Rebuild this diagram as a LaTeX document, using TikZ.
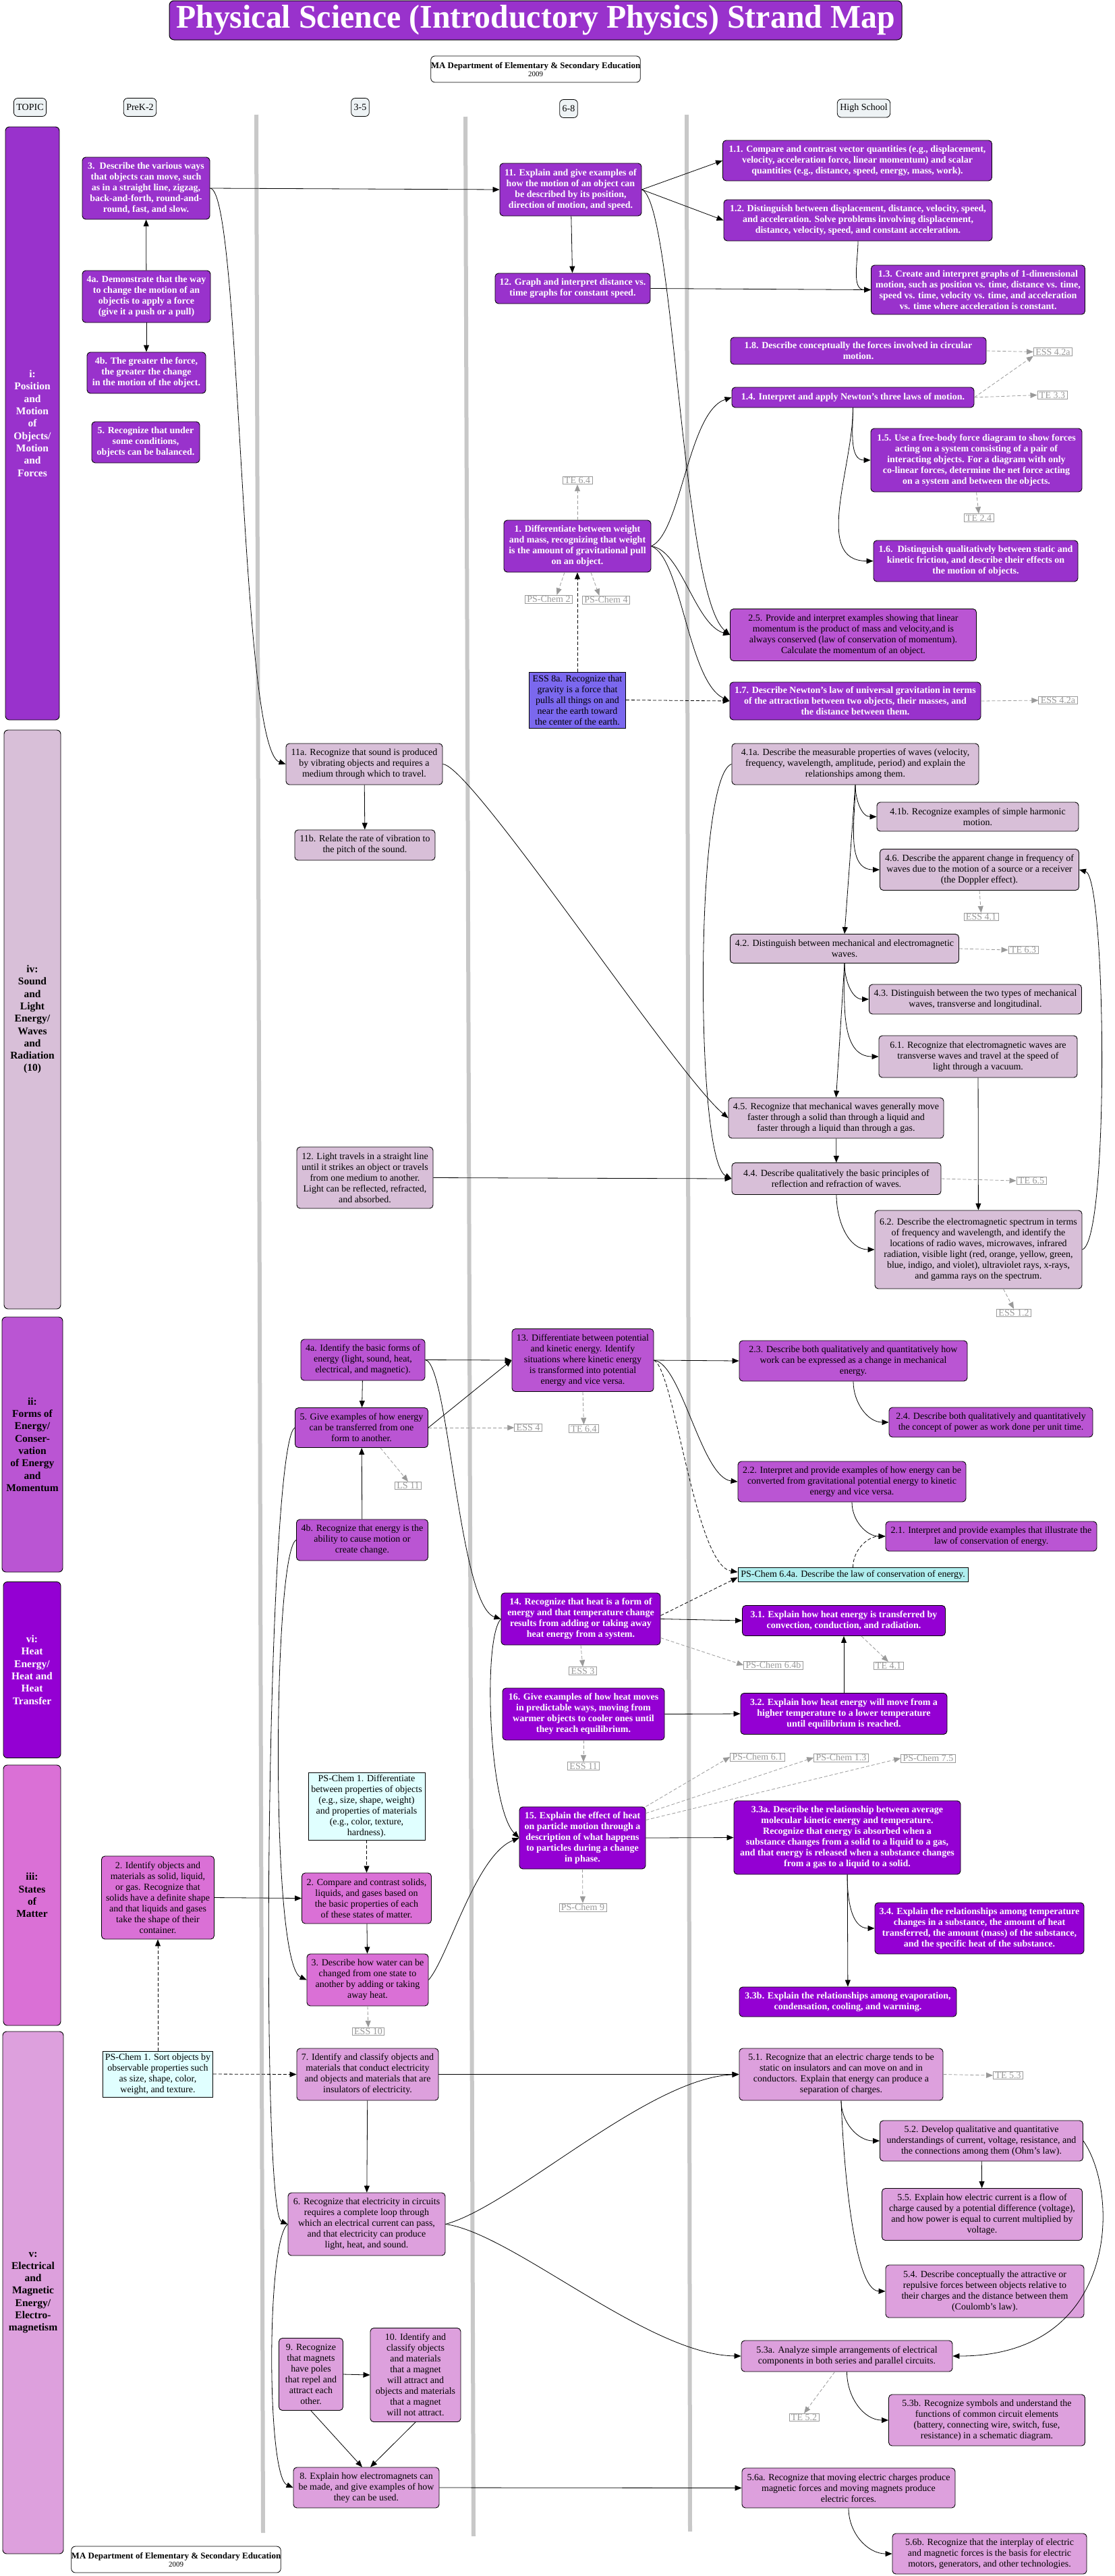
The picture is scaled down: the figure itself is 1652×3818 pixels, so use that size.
\documentclass[tikz,border=0pt]{standalone}
\usepackage{fontspec}
\setmainfont{Liberation Serif}
\usepackage{graphicx}
\usetikzlibrary{arrows.meta}

\definecolor{posc}{HTML}{9932CC}
\definecolor{wavec}{HTML}{D8BFD8}
\definecolor{enerc}{HTML}{BA55D3}
\definecolor{heatc}{HTML}{9400D3}
\definecolor{matc}{HTML}{DA70D6}
\definecolor{elecc}{HTML}{DDA0DD}
\definecolor{chemc}{HTML}{E0FFFF}
\definecolor{chemd}{HTML}{AFEEEE}
\definecolor{gravc}{HTML}{7B68EE}
\definecolor{headc}{HTML}{EEF3F5}
\definecolor{refc}{HTML}{999999}
\definecolor{colc}{HTML}{C8C8C8}

\tikzset{
  sz/.style 2 args={minimum width=#1pt, minimum height=#2pt},
  std/.style={draw=black, line width=0.9pt, rounded corners=5pt, align=center, inner sep=0pt, font=\fontsize{14}{16}\selectfont},
  posbox/.style={std, fill=posc, text=white, font=\fontsize{14}{16}\selectfont\bfseries},
  wavebox/.style={std, fill=wavec},
  enerbox/.style={std, fill=enerc},
  heatbox/.style={std, fill=heatc, text=white, font=\fontsize{14}{16}\selectfont\bfseries},
  mattbox/.style={std, fill=matc},
  elecbox/.style={std, fill=elecc},
  chembox/.style={std, rounded corners=0pt, fill=chemc},
  refbox/.style={draw=refc, text=refc, line width=0.8pt, inner xsep=3pt, inner ysep=1pt, font=\fontsize{14}{15}\selectfont},
  headbox/.style={draw=black, fill=headc, line width=0.8pt, rounded corners=6pt, font=\fontsize{14}{16}\selectfont, inner xsep=4pt, minimum height=27pt},
  topicbar/.style={draw=black, line width=0.9pt, rounded corners=6pt, align=center, font=\fontsize{15.5}{18.3}\selectfont\bfseries},
  deptbox/.style={draw=black, line width=0.8pt, rounded corners=6pt, fill=white, sz={302}{39}, align=center, inner sep=0pt},
  arr/.style={-{Triangle[length=10pt,width=8pt]}, line width=0.8pt},
  darr/.style={arr, dash pattern=on 5pt off 3pt},
  rarr/.style={darr, draw=refc},
  colline/.style={draw=colc, line width=6pt}
}

\begin{document}
\begin{tikzpicture}[x=1pt, y=-1pt]

\useasboundingbox[fill=white] (0,0) rectangle (1652,3818);

\draw[colline] (380,170) -- (390,3754);
\draw[colline] (690,173) -- (702,3759);
\draw[colline] (1018,170) -- (1023,3752);

\node[fill=posc, draw=black, line width=1pt, rounded corners=7pt, sz={1086}{58}, inner sep=0pt] (title) at (794,30) {\resizebox{1065pt}{34pt}{\color{white}\bfseries Physical Science (Introductory Physics) Strand Map}};
\node[deptbox] (dept) at (794,102.5) {{\fontsize{13}{14}\selectfont\bfseries MA Department of Elementary \& Secondary Education}\\{\fontsize{11}{14}\selectfont 2009}};

\node[headbox] (htopic) at (44.5,159) {TOPIC};
\node[headbox] (hprek) at (207.5,159) {PreK-2};
\node[headbox] (hfive) at (534,159) {3-5};
\node[headbox] (height) at (843,161) {6-8};
\node[headbox] (hhigh) at (1280.5,160.5) {High School};

\node[topicbar, fill=posc, text=white, sz={80}{879}] (ti) at (48,627.5) {i:\\Position\\and\\Motion\\of\\Objects/\\Motion\\and\\Forces};
\node[topicbar, fill=wavec, sz={84}{858}] (tiv) at (48,1511) {iv:\\Sound\\and\\Light\\Energy/\\Waves\\and\\Radiation\\(10)};
\node[topicbar, fill=enerc, sz={90}{378}] (tii) at (48,2141) {ii:\\Forms of\\Energy/\\Conser-\\vation\\of Energy\\and\\Momentum};
\node[topicbar, fill=heatc, text=white, sz={85}{261}] (tvi) at (47.5,2475) {vi:\\Heat\\Energy/\\Heat and\\Heat\\Transfer};
\node[topicbar, fill=matc, sz={85}{386}] (tiii) at (47.5,2809) {iii:\\States\\of\\Matter};
\node[topicbar, fill=elecc, sz={90}{774}] (tv) at (49,3398) {v:\\Electrical\\and\\Magnetic\\Energy/\\Electro-\\magnetism};

\node[posbox, sz={189}{92}] (pk3) at (216.5,279) {3.\ \ Describe the various ways\\that objects can move, such\\as in a straight line, zigzag,\\back-and-forth, round-and-\\round, fast, and slow.};
\node[posbox, sz={190}{77}] (pk4a) at (217,439.5) {4a. Demonstrate that the way\\to change the motion of an\\objectis to apply a force\\(give it a push or a pull)};
\node[posbox, sz={176}{61}] (pk4b) at (217,552.5) {4b. The greater the force,\\the greater the change\\in the motion of the object.};
\node[posbox, sz={160}{61}] (pk5) at (216,655.5) {5. Recognize that under\\some conditions,\\objects can be balanced.};
\node[posbox, sz={210}{78}] (m11) at (846,281) {11. Explain and give examples of\\how the motion of an object can\\be described by its position,\\direction of motion, and speed.};
\node[posbox, sz={230}{45}] (m12) at (849,427.5) {12. Graph and interpret distance vs.\\time graphs for constant speed.};
\node[posbox, sz={218}{77}] (m1) at (856,809.5) {1. Differentiate between weight\\and mass, recognizing that weight\\is the amount of gravitational pull\\on an object.};
\node[refbox] (rte64a) at (856,712) {TE 6.4};
\node[refbox] (rchem2) at (813.5,888) {PS-Chem 2};
\node[refbox] (rchem4) at (898.5,889) {PS-Chem 4};
\node[std, rounded corners=0pt, fill=gravc, sz={143}{83}] (ess8a) at (856,1037.5) {ESS 8a. Recognize that\\gravity is a force that\\pulls all things on and\\near the earth toward\\the center of the earth.};

\node[posbox, sz={399}{60}] (h11) at (1271,238) {1.1. Compare and contrast vector quantities (e.g., displacement,\\velocity, acceleration force, linear momentum) and scalar\\quantities (e.g., distance, speed, energy, mass, work).};
\node[posbox, sz={398}{61}] (h12) at (1272,326.5) {1.2. Distinguish between displacement, distance, velocity, speed,\\and acceleration. Solve problems involving displacement,\\distance, velocity, speed, and constant acceleration.};
\node[posbox, sz={317}{73}] (h13) at (1450,429.5) {1.3. Create and interpret graphs of 1-dimensional\\motion, such as position vs. time, distance vs. time,\\speed vs. time, velocity vs. time, and acceleration\\vs. time where acceleration is constant.};
\node[posbox, sz={379}{40}] (h18) at (1272.5,520) {1.8. Describe conceptually the forces involved in circular\\motion.};
\node[refbox] (ress42a) at (1561,521.5) {ESS 4.2a};
\node[posbox, sz={359}{30}] (h14) at (1264.5,589) {1.4. Interpret and apply Newton’s three laws of motion.};
\node[refbox] (rte33) at (1560,585.5) {TE 3.3};
\node[posbox, sz={313}{94}] (h15) at (1447.5,682) {1.5. Use a free-body force diagram to show forces\\acting on a system consisting of a pair of\\interacting objects. For a diagram with only\\co-linear forces, determine the net force acting\\on a system and between the objects.};
\node[refbox] (rte24) at (1451,767.5) {TE 2.4};
\node[posbox, sz={303}{61}] (h16) at (1446.5,831.5) {1.6.\ \ Distinguish qualitatively between static and\\kinetic friction, and describe their effects on\\the motion of objects.};
\node[enerbox, sz={365}{77}] (h25) at (1265,941) {2.5. Provide and interpret examples showing that linear\\momentum is the product of mass and velocity,and is\\always conserved (law of conservation of momentum).\\Calculate the momentum of an object.};
\node[posbox, sz={372}{56}] (h17) at (1268,1039) {1.7. Describe Newton’s law of universal gravitation in terms\\of the attraction between two objects, their masses, and\\the distance between them.};
\node[refbox] (ress42b) at (1568.5,1038) {ESS 4.2a};

\node[wavebox, sz={232}{61}] (g11a) at (540,1132.5) {11a. Recognize that sound is produced\\by vibrating objects and requires a\\medium through which to travel.};
\node[wavebox, sz={208}{45}] (g11b) at (541,1252.5) {11b. Relate the rate of vibration to\\the pitch of the sound.};
\node[wavebox, sz={202}{91}] (g12) at (541,1745.5) {12. Light travels in a straight line\\until it strikes an object or travels\\from one medium to another.\\Light can be reflected, refracted,\\and absorbed.};
\node[wavebox, sz={366}{61}] (h41a) at (1268,1132.5) {4.1a. Describe the measurable properties of waves (velocity,\\frequency, wavelength, amplitude, period) and explain the\\relationships among them.};
\node[wavebox, sz={299}{43}] (h41b) at (1449.5,1210.5) {4.1b. Recognize examples of simple harmonic\\motion.};
\node[wavebox, sz={295}{61}] (h46) at (1452,1289) {4.6. Describe the apparent change in frequency of\\waves due to the motion of a source or a receiver\\(the Doppler effect).};
\node[refbox] (ress41) at (1454.5,1359) {ESS 4.1};
\node[wavebox, sz={339}{43}] (h42) at (1252,1406) {4.2. Distinguish between mechanical and electromagnetic\\waves.};
\node[refbox] (rte63) at (1517,1408) {TE 6.3};
\node[wavebox, sz={315}{44}] (h43) at (1446,1481) {4.3. Distinguish between the two types of mechanical\\waves, transverse and longitudinal.};
\node[wavebox, sz={294}{62}] (h61) at (1450,1566) {6.1. Recognize that electromagnetic waves are\\transverse waves and travel at the speed of\\light through a vacuum.};
\node[wavebox, sz={319}{60}] (h45) at (1239.5,1657) {4.5. Recognize that mechanical waves generally move\\faster through a solid than through a liquid and\\faster through a liquid than through a gas.};
\node[wavebox, sz={310}{47}] (h44) at (1240,1747) {4.4. Describe qualitatively the basic principles of\\reflection and refraction of waves.};
\node[refbox] (rte65) at (1529,1750) {TE 6.5};
\node[wavebox, sz={307}{116}] (h62) at (1450.5,1852) {6.2. Describe the electromagnetic spectrum in terms\\of frequency and wavelength, and identify the\\locations of radio waves, microwaves, infrared\\radiation, visible light (red, orange, yellow, green,\\blue, indigo, and violet), ultraviolet rays, x-rays,\\and gamma rays on the spectrum.};
\node[refbox] (ress12) at (1503,1946) {ESS 1.2};

\node[enerbox, sz={184}{61}] (g4a) at (538,2015.5) {4a. Identify the basic forms of\\energy (light, sound, heat,\\electrical, and magnetic).};
\node[enerbox, sz={197}{59}] (g5) at (536,2116) {5. Give examples of how energy\\can be transferred from one\\form to another.};
\node[refbox] (rls11) at (605,2202) {LS 11};
\node[refbox] (ress4) at (783,2116) {ESS 4};
\node[enerbox, sz={195}{61}] (g4b) at (537,2282.5) {4b. Recognize that energy is the\\ability to cause motion or\\create change.};
\node[enerbox, sz={210}{93}] (m13) at (864,2016) {13. Differentiate between potential\\and kinetic energy. Identify\\situations where kinetic energy\\is transformed into potential\\energy and vice versa.};
\node[refbox] (rte64b) at (865.5,2117.5) {TE 6.4};
\node[enerbox, sz={338}{60}] (h23) at (1265,2017) {2.3. Describe both qualitatively and quantitatively how\\work can be expressed as a change in mechanical\\energy.};
\node[enerbox, sz={302}{44}] (h24) at (1469,2108) {2.4. Describe both qualitatively and quantitatively\\the concept of power as work done per unit time.};
\node[enerbox, sz={338}{60}] (h22) at (1263,2196) {2.2. Interpret and provide examples of how energy can be\\converted from gravitational potential energy to kinetic\\energy and vice versa.};
\node[enerbox, sz={313}{44}] (h21) at (1469.5,2277) {2.1. Interpret and provide examples that illustrate the\\law of conservation of energy.};
\node[chembox, fill=chemd, sz={341}{21}] (c64a) at (1264.5,2334) {PS-Chem 6.4a. Describe the law of conservation of energy.};

\node[heatbox, sz={236}{77}] (m14) at (861,2399.5) {14. Recognize that heat is a form of\\energy and that temperature change\\results from adding or taking away\\heat energy from a system.};
\node[refbox] (ress3) at (864,2476.5) {ESS 3};
\node[heatbox, sz={240}{77}] (m16) at (865,2540.5) {16. Give examples of how heat moves\\in predictable ways, moving from\\warmer objects to cooler ones until\\they reach equilibrium.};
\node[refbox] (ress11) at (865,2617.5) {ESS 11};
\node[heatbox, sz={301}{45}] (h31) at (1251,2402) {3.1. Explain how heat energy is transferred by\\convection, conduction, and radiation.};
\node[refbox] (rc64b) at (1146.5,2468) {PS-Chem 6.4b};
\node[refbox] (rte41) at (1317,2469) {TE 4.1};
\node[heatbox, sz={306}{61}] (h32) at (1251,2540) {3.2. Explain how heat energy will move from a\\higher temperature to a lower temperature\\until equilibrium is reached.};
\node[refbox] (rc61) at (1123,2604) {PS-Chem 6.1};
\node[refbox] (rc13) at (1247,2605) {PS-Chem 1.3};
\node[refbox] (rc75) at (1376,2606) {PS-Chem 7.5};

\node[chembox, sz={173}{100}] (gchem) at (543.5,2677) {PS-Chem 1. Differentiate\\between properties of objects\\(e.g., size, shape, weight)\\and properties of materials\\(e.g., color, texture,\\hardness).};
\node[mattbox, sz={167}{123}] (pk2) at (234,2812.5) {2. Identify objects and\\materials as solid, liquid,\\or gas. Recognize that\\solids have a definite shape\\and that liquids and gases\\take the shape of their\\container.};
\node[mattbox, sz={192}{75}] (g2) at (543.5,2813.5) {2. Compare and contrast solids,\\liquids, and gases based on\\the basic properties of each\\of these states of matter.};
\node[mattbox, sz={180}{77}] (g3) at (545,2934.5) {3. Describe how water can be\\changed from one state to\\another by adding or taking\\away heat.};
\node[refbox] (ress10) at (546,3011) {ESS 10};
\node[heatbox, sz={187}{92}] (m15) at (863.5,2724) {15. Explain the effect of heat\\on particle motion through a\\description of what happens\\to particles during a change\\in phase.};
\node[refbox] (rc9) at (864,2827) {PS-Chem 9};
\node[heatbox, sz={336}{109}] (h33a) at (1256,2723.5) {3.3a. Describe the relationship between average\\molecular kinetic energy and temperature.\\Recognize that energy is absorbed when a\\substance changes from a solid to a liquid to a gas,\\and that energy is released when a substance changes\\from a gas to a liquid to a solid.};
\node[heatbox, sz={310}{76}] (h34) at (1452,2858) {3.4. Explain the relationships among temperature\\changes in a substance, the amount of heat\\transferred, the amount (mass) of the substance,\\and the specific heat of the substance.};
\node[heatbox, sz={322}{44}] (h33b) at (1257,2967) {3.3b. Explain the relationships among evaporation,\\condensation, cooling, and warming.};

\node[chembox, sz={163}{68}] (pkchem) at (234,3074) {PS-Chem 1. Sort objects by\\observable properties such\\as size, shape, color,\\weight, and texture.};
\node[elecbox, sz={210}{77}] (g7) at (545,3074.5) {7. Identify and classify objects and\\materials that conduct electricity\\and objects and materials that are\\insulators of electricity.};
\node[elecbox, sz={233}{93}] (g6) at (543.5,3296.5) {6. Recognize that electricity in circuits\\requires a complete loop through\\which an electrical current can pass,\\and that electricity can produce\\light, heat, and sound.};
\node[elecbox, sz={95}{107}] (g9) at (461,3519) {9. Recognize\\that magnets\\have poles\\that repel and\\attract each\\other.};
\node[elecbox, sz={134}{139}] (g10) at (616,3520) {10. Identify and\\classify objects\\and materials\\that a magnet\\will attract and\\objects and materials\\that a magnet\\will not attract.};
\node[elecbox, sz={216}{60}] (g8) at (543,3687) {8. Explain how electromagnets can\\be made, and give examples of how\\they can be used.};
\node[elecbox, sz={302}{77}] (h51) at (1247,3074.5) {5.1. Recognize that an electric charge tends to be\\static on insulators and can move on and in\\conductors. Explain that energy can produce a\\separation of charges.};
\node[refbox] (rte53) at (1494.5,3076) {TE 5.3};
\node[elecbox, sz={301}{60}] (h52) at (1455,3173) {5.2. Develop qualitative and quantitative\\understandings of current, voltage, resistance, and\\the connections among them (Ohm’s law).};
\node[elecbox, sz={297}{77}] (h55) at (1456,3282) {5.5. Explain how electric current is a flow of\\charge caused by a potential difference (voltage),\\and how power is equal to current multiplied by\\voltage.};
\node[elecbox, sz={294}{78}] (h54) at (1460,3396) {5.4. Describe conceptually the attractive or\\repulsive forces between objects relative to\\their charges and the distance between them\\(Coulomb’s law).};
\node[elecbox, sz={313}{46}] (h53a) at (1255.5,3492) {5.3a. Analyze simple arrangements of electrical\\components in both series and parallel circuits.};
\node[refbox] (rte52) at (1192,3583) {TE 5.2};
\node[elecbox, sz={291}{76}] (h53b) at (1463,3587) {5.3b. Recognize symbols and understand the\\functions of common circuit elements\\(battery, connecting wire, switch, fuse,\\resistance) in a schematic diagram.};
\node[elecbox, sz={316}{59}] (h56a) at (1258,3687.5) {5.6a. Recognize that moving electric charges produce\\magnetic forces and moving magnets produce\\electric forces.};
\node[elecbox, sz={288}{60}] (h56b) at (1467,3785) {5.6b. Recognize that the interplay of electric\\and magnetic forces is the basis for electric\\motors, generators, and other technologies.};
\node[deptbox] (deptb) at (261,3793.5) {{\fontsize{13}{14}\selectfont\bfseries MA Department of Elementary \& Secondary Education}\\{\fontsize{11}{14}\selectfont 2009}};

\draw[arr] (pk4a) -- (pk3);
\draw[arr] (pk4a) -- (pk4b);
\draw[arr] (pk3.east) -- (m11.west);
\draw[arr] (pk3.east) .. controls (358,280) and (355,1110) .. (g11a.west);
\draw[arr] (m11) -- (m12);
\draw[arr] (m11.east) -- (h11.west);
\draw[arr] (m11.east) -- (h12.west);
\draw[arr] (m12.east) -- (h13.west);
\draw[arr] (h12.south) to[out=270, in=180] (h13.west);
\draw[arr] (m11.east) .. controls (1000,300) and (1010,880) .. (h25.west);
\draw[arr] (m1.east) .. controls (1010,790) and (1020,610) .. (h14.west);
\draw[arr] (m1.east) .. controls (1010,815) and (1030,925) .. (h25.west);
\draw[arr] (m1.east) .. controls (1010,825) and (1020,1010) .. (h17.west);
\draw[arr] (h14.south) to[out=270, in=180] (h15.west);
\draw[arr] (h14.south) to[out=270, in=180] (h16.west);
\draw[rarr] (h18.east) -- (ress42a.west);
\draw[rarr] (h14.east) -- (ress42a.south west);
\draw[rarr] (h14.east) -- (rte33.west);
\draw[rarr] (h15.south) -- (rte24.north);
\draw[rarr] (m1.north) -- (rte64a.south);
\draw[rarr] ([xshift=-19pt]m1.south) -- ([xshift=12pt]rchem2.north);
\draw[rarr] ([xshift=20pt]m1.south) -- ([xshift=-10pt]rchem4.north);
\draw[darr] (ess8a.north) -- (m1.south);
\draw[darr] (ess8a.east) -- (h17.west);
\draw[rarr] (h17.east) -- (ress42b.west);

\draw[arr] (g11a) -- (g11b);
\draw[arr] (g11a.east) .. controls (700,1135) and (1000,1590) .. (h45.west);
\draw[arr] (g12.east) -- (h44.west);
\draw[arr] (h41a.west) .. controls (1030,1150) and (1030,1720) .. (h44.west);
\draw[arr] (h41a.south) to[out=270, in=180] (h41b.west);
\draw[arr] (h41a.south) to[out=270, in=180] (h46.west);
\draw[arr] (h41a.south) -- (h42.north);
\draw[rarr] (h46.south) -- (ress41.north);
\draw[rarr] (h42.east) -- (rte63.west);
\draw[arr] (h42.south) to[out=270, in=180] (h43.west);
\draw[arr] (h42.south) to[out=270, in=180] (h61.west);
\draw[arr] (h42.south) -- (h45.north);
\draw[arr] (h45) -- (h44);
\draw[arr] (h61) -- (h62);
\draw[arr] (h44.south) to[out=270, in=180] (h62.west);
\draw[rarr] (h44.east) -- (rte65.west);
\draw[arr] (h62.east) .. controls (1645,1840) and (1640,1300) .. (h46.east);
\draw[rarr] ([xshift=37pt]h62.south) -- (ress12.north);

\draw[arr] (g4a) -- (g5);
\draw[arr] (g4b) -- (g5);
\draw[arr] (g4a.east) -- (m13.west);
\draw[arr] (g5.east) -- (m13.west);
\draw[rarr] (g5.east) -- (ress4.west);
\draw[rarr] ([xshift=28pt]g5.south) -- (rls11.north);
\draw[rarr] (m13.south) -- (rte64b.north);
\draw[arr] (m13.east) -- (h23.west);
\draw[arr] (m13.east) .. controls (1010,2020) and (1040,2190) .. (h22.west);
\draw[darr] (m13.east) .. controls (1000,2030) and (1030,2320) .. ([yshift=4pt]c64a.west);
\draw[arr] (h23.south) to[out=270, in=180] (h24.west);
\draw[arr] (h22.south) to[out=270, in=180] (h21.west);
\draw[darr] (c64a.north) to[out=90, in=180] (h21.west);
\draw[arr] (g4a.east) .. controls (665,2020) and (680,2380) .. (m14.west);
\draw[arr] (g4b.west) .. controls (405,2300) and (400,2910) .. (g3.west);
\draw[arr] (g5.west) .. controls (395,2140) and (385,3280) .. (g6.west);

\draw[arr] (m14.east) -- (h31.west);
\draw[darr] ([yshift=5pt]m14.east) -- ([yshift=-4pt]c64a.west);
\draw[rarr] ([yshift=-28pt]m14.east) -- (rc64b.west);
\draw[rarr] (m14.south) -- (ress3.north);
\draw[arr] (m16.east) -- (h32.west);
\draw[rarr] (m16.south) -- (ress11.north);
\draw[arr] (h32) -- (h31);
\draw[rarr] ([xshift=26pt]h31.south) -- (rte41.north);
\draw[arr] (m14.west) .. controls (715,2430) and (725,2680) .. (m15.west);
\draw[rarr] (m15.north east) -- (rc61.west);
\draw[rarr] ([yshift=-10pt]m15.north east) -- (rc13.west);
\draw[rarr] ([yshift=-20pt]m15.north east) -- (rc75.west);

\draw[darr] (gchem) -- (g2);
\draw[arr] (pk2.east) -- (g2.west);
\draw[arr] (g2) -- (g3);
\draw[rarr] (g3.south) -- (ress10.north);
\draw[arr] (g3.east) .. controls (665,2900) and (705,2750) .. (m15.west);
\draw[arr] (m15.east) -- (h33a.west);
\draw[rarr] (m15.south) -- (rc9.north);
\draw[arr] (h33a.south) to[out=270, in=180] (h34.west);
\draw[arr] (h33a) -- (h33b);

\draw[darr] (pkchem) -- (pk2);
\draw[darr] (pkchem.east) -- (g7.west);
\draw[arr] (g7) -- (g6);
\draw[arr] (g7.east) -- (h51.west);
\draw[arr] (g6.east) .. controls (760,3270) and (960,3080) .. (h51.west);
\draw[arr] (g6.east) .. controls (760,3310) and (960,3490) .. (h53a.west);
\draw[arr] (g6.west) .. controls (395,3320) and (395,3670) .. (g8.west);
\draw[arr] (g9.east) -- (g10.west);
\draw[arr] (g9.south) -- ([xshift=-6pt]g8.north);
\draw[arr] (g10.south) -- ([xshift=6pt]g8.north);
\draw[arr] (g8.east) -- (h56a.west);
\draw[rarr] (h51.east) -- (rte53.west);
\draw[arr] (h51.south) to[out=270, in=180] (h52.west);
\draw[arr] (h51.south) .. controls (1250,3200) and (1265,3395) .. (h54.west);
\draw[arr] (h52) -- (h55);
\draw[arr] (h52.east) .. controls (1660,3250) and (1660,3492) .. (h53a.east);
\draw[arr] (h53a.south) to[out=270, in=180] (h53b.west);
\draw[rarr] ([xshift=-18pt]h53a.south) -- (rte52.north);
\draw[arr] (h56a.south) to[out=270, in=180] (h56b.west);

\end{tikzpicture}
\end{document}
